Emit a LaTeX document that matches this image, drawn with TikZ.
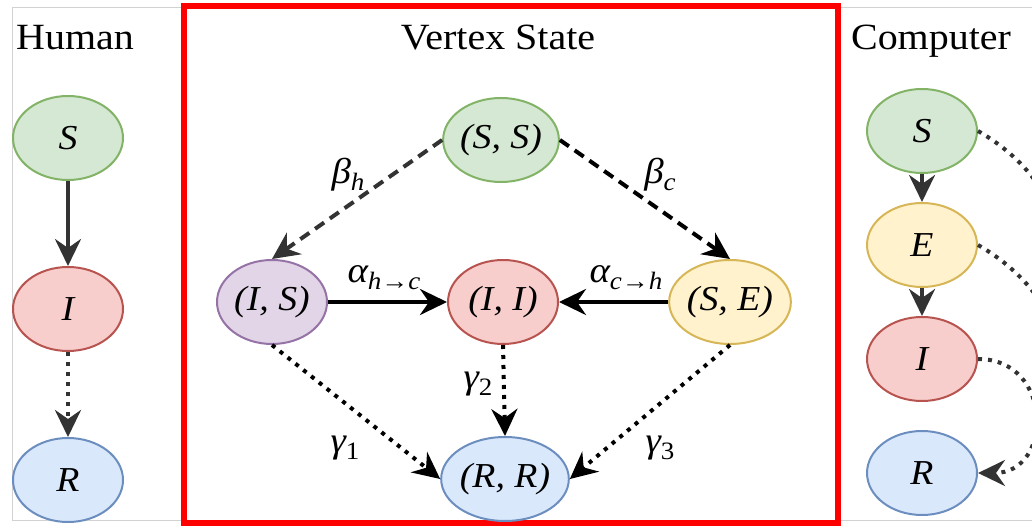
\documentclass[tikz,border=0pt]{standalone}
\usepackage{fontspec}
\setmainfont{Liberation Serif}[
    FakeStretch=1.08,
    UprightFont=Liberation Serif,
    ItalicFont=Liberation Serif Italic,
    BoldFont=Liberation Serif Bold]
\usetikzlibrary{shapes.geometric,arrows.meta,positioning}
\definecolor{greenfill}{HTML}{D5E8D4}
\definecolor{greenline}{HTML}{82B366}
\definecolor{redfill}{HTML}{F8CECC}
\definecolor{redline}{HTML}{B85450}
\definecolor{bluefill}{HTML}{DAE8FC}
\definecolor{blueline}{HTML}{6C8EBF}
\definecolor{yellowfill}{HTML}{FFF2CC}
\definecolor{yellowline}{HTML}{D6B656}
\definecolor{purplefill}{HTML}{E1D5E7}
\definecolor{purpleline}{HTML}{9673A6}
\definecolor{arrowgray}{HTML}{333333}
\newcommand{\rsub}[1]{\raisebox{-7pt}{\fontsize{25}{25}\selectfont #1}}

\begin{document}
\begin{tikzpicture}[
    x=1pt, y=1pt,
    state/.style={ellipse, draw, line width=2pt, minimum width=110pt, minimum height=84pt,
                  inner sep=0pt, font=\fontsize{35}{40}\selectfont\itshape},
    susc/.style={state, fill=greenfill, draw=greenline},
    expo/.style={state, fill=yellowfill, draw=yellowline},
    infe/.style={state, fill=redfill, draw=redline},
    reco/.style={state, fill=bluefill, draw=blueline},
    mixd/.style={state, fill=purplefill, draw=purpleline},
    title/.style={anchor=base, font=\fontsize{37}{42}\selectfont},
    rate/.style={font=\fontsize{36}{40}\selectfont\itshape},
    arrow/.style={-{Stealth[length=27pt, width=26pt, inset=9pt]}, line width=4pt},
    dashline/.style={arrow, dash pattern=on 11pt off 7pt},
    dotline/.style={arrow, dash pattern=on 4pt off 6pt},
    dotcurve/.style={line width=4pt, dash pattern=on 4pt off 6pt, arrowgray}
]
    \useasboundingbox (0,0) rectangle (1032,527);
    \clip (0,0) rectangle (1032,527);

    % panel frames
    \draw[gray!35, line width=1pt] (12,7) rectangle (1050,519);
    \draw[red, line width=6pt] (184,4) rectangle (838,521);

    \node[title] (human) at (75,477) {Human};
    \node[title] (vertex) at (498,477) {Vertex State};
    \node[title] (computer) at (931,477) {Computer};

    % human side
    \node[susc] (hS) at (68,389) {S};
    \node[infe, below=85pt of hS] (hI) {I};
    \node[reco, below=85pt of hI] (hR) {R};
    \draw[arrow, arrowgray] (hS) -- (hI);
    \draw[dotline, arrowgray] (hI) -- (hR);

    % vertex states
    \node[susc] (SS) at (501,387) {(S, S)};
    \node[mixd] (IS) at (272,225) {(I, S)};
    \node[infe] (II) at (503,225) {(I, I)};
    \node[expo] (SE) at (730,225) {(S, E)};
    \node[reco] (RR) at (505,48) {(R, R)};

    \draw[dashline, arrowgray] (SS.west) -- (IS.north);
    \draw[dashline] (SS.east) -- (SE.north);
    \draw[arrow] (IS.east) -- (II.west);
    \draw[arrow] (SE.west) -- (II.east);
    \draw[dotline] (IS.south) -- (RR.west);
    \draw[dotline] (II.south) -- (RR.north);
    \draw[dotline] (SE.south) -- (RR.east);

    \node[rate] (bh) at (348,352) {β\rsub{h}};
    \node[rate] (bc) at (660,352) {β\rsub{c}};
    \node[rate] (ahc) at (384,249) {α\rsub{h→c}};
    \node[rate] (ach) at (626,249) {α\rsub{c→h}};
    \node[rate] (g1) at (345,79) {γ\rsub{\upshape 1}};
    \node[rate] (g2) at (478,143) {γ\rsub{\upshape 2}};
    \node[rate] (g3) at (660,79) {γ\rsub{\upshape 3}};

    % computer side
    \node[susc] (cS) at (922,396) {S};
    \node[expo, below=28pt of cS] (cE) {E};
    \node[infe, below=28pt of cE] (cI) {I};
    \node[reco, below=28pt of cI] (cR) {R};
    \draw[arrow, arrowgray] (cS) -- (cE);
    \draw[arrow, arrowgray] (cE) -- (cI);

    \coordinate (sOut) at (1075,200);
    \coordinate (eOut) at (1075,88);
    \draw[dotcurve] (cS.east) to[out=-30, in=90] (sOut);
    \draw[dotcurve] (cE.east) to[out=-30, in=90] (eOut);
    \draw[dotcurve, arrow] (cI.east) to[out=0, in=0, looseness=1.7] (cR.east);
\end{tikzpicture}
\end{document}
